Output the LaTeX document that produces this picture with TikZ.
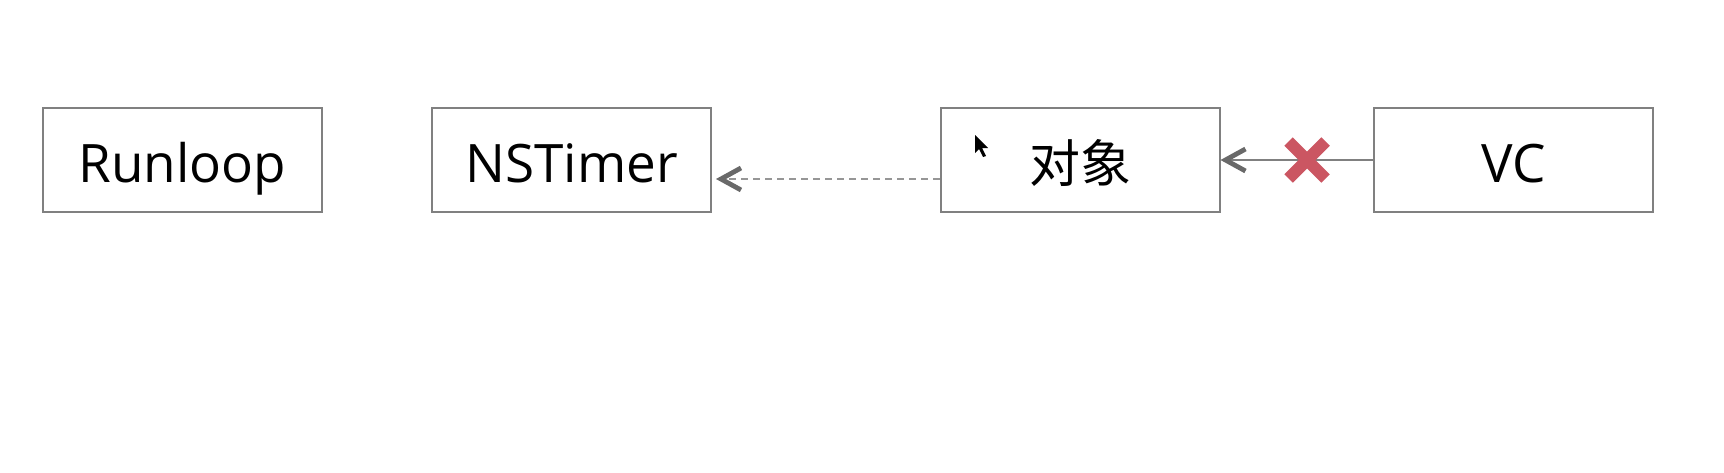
\documentclass[tikz,border=0pt]{standalone}
\usepackage{fontspec}
\setmainfont{Open Sans}
\newfontfamily\cjk{Noto Sans CJK SC}
\usetikzlibrary{arrows.meta,shapes.misc}
\definecolor{boxgray}{RGB}{128,128,128}
\definecolor{tipgray}{RGB}{105,105,105}
\definecolor{dashgray}{RGB}{150,150,150}
\definecolor{xred}{RGB}{203,86,98}
\tikzset{
	block/.style={draw=boxgray,line width=1pt,rectangle,minimum width=139.5pt,minimum height=52pt,inner sep=0pt,text height=22pt,text depth=0pt,font=\fontsize{26.5}{30}\selectfont},
	barb/.style={-{Straight Barb[length=10pt,width=11pt,line width=2.4pt,color=tipgray]}}
}

\begin{document}
\begin{tikzpicture}[x=0.5pt,y=-0.5pt]
		\useasboundingbox (0,0) rectangle (1724,472);
		
		\begin{scope}
			\node[block] (runloop) at (182.5,160) {Runloop};
			\node[block] (timer) at (571.5,160) {NSTimer};
			\node[block,font=\cjk\fontsize{25.5}{30}\selectfont] (obj) at (1080,160) {对象};
			\node[block] (vc) at (1513.5,160) {VC};
		\end{scope}
		
		\draw[barb,dashgray,line width=1pt,dash pattern=on 3.5pt off 2.5pt] ([yshift=-9.5pt]obj.west) to ([yshift=-9.5pt,xshift=2pt]timer.east);
		\draw[barb,boxgray,line width=1pt] (vc.west) to (obj.east);
		
		\node[cross out,draw=xred,line width=6pt,minimum size=12.5pt,inner sep=0pt] (cross) at (1307,160) {};
		
		% mouse pointer
		\fill (975,135) -- (975,153) -- (979,149) -- (983,157) -- (986,156) -- (982,148) -- (988,148) -- cycle;
	\end{tikzpicture}
\end{document}
